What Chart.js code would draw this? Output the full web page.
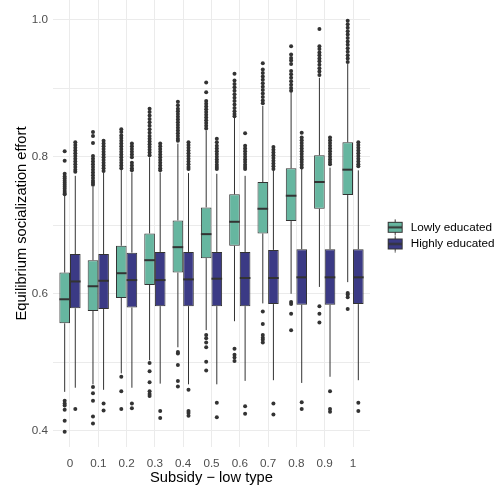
<!DOCTYPE html>
<html><head><meta charset="utf-8">
<script src="https://cdn.jsdelivr.net/npm/chart.js@4/dist/chart.umd.min.js"></script>
<style>html,body{margin:0;padding:0;background:#fff}#wrap{width:496px;height:491px;position:relative}</style>
</head><body><div id="wrap"><canvas id="c"></canvas></div>
<script>
// ---------------- DATA ----------------
const categories = [0, 0.1, 0.2, 0.3, 0.4, 0.5, 0.6, 0.7, 0.8, 0.9, 1];
const xTickLabels = ['0', '0.1', '0.2', '0.3', '0.4', '0.5', '0.6', '0.7', '0.8', '0.9', '1'];
const yTickValues = [0.4, 0.5, 0.6, 0.7, 0.8, 0.9, 1.0];
const yTickLabels = ['0.4', '', '0.6', '', '0.8', '', '1.0'];
const seriesNames = ['Lowly educated', 'Highly educated'];

// Lowly educated
const lowQ1      = [0.557, 0.575, 0.594, 0.613, 0.631, 0.652, 0.670, 0.688, 0.706, 0.724, 0.744];
const lowMedian  = [0.592, 0.611, 0.630, 0.649, 0.668, 0.687, 0.705, 0.724, 0.743, 0.763, 0.781];
const lowQ3      = [0.631, 0.649, 0.670, 0.688, 0.707, 0.726, 0.745, 0.763, 0.783, 0.802, 0.821];
const lowWhiskLo = [0.457, 0.468, 0.484, 0.503, 0.522, 0.547, 0.560, 0.586, 0.600, 0.610, 0.617];
const lowWhiskHi = [0.743, 0.756, 0.781, 0.799, 0.819, 0.838, 0.857, 0.874, 0.894, 0.915, 0.935];
const lowOutHigh = [
  [0.808, 0.794, 0.775, 0.771, 0.768, 0.765, 0.762, 0.759, 0.756, 0.753, 0.750, 0.747, 0.745],
  [0.836, 0.830, 0.820, 0.801, 0.797, 0.793, 0.789, 0.785, 0.781, 0.777, 0.773, 0.769, 0.765, 0.762, 0.759],
  [0.840, 0.836, 0.831, 0.827, 0.823, 0.819, 0.815, 0.811, 0.807, 0.803, 0.799, 0.795, 0.791, 0.787, 0.783],
  [0.870, 0.865, 0.860, 0.855, 0.850, 0.845, 0.840, 0.835, 0.830, 0.826, 0.822, 0.818, 0.814, 0.810, 0.806, 0.802],
  [0.880, 0.875, 0.870, 0.866, 0.862, 0.858, 0.854, 0.850, 0.846, 0.842, 0.838, 0.834, 0.830, 0.826, 0.823],
  [0.908, 0.894, 0.881, 0.877, 0.873, 0.869, 0.865, 0.861, 0.857, 0.853, 0.849, 0.845, 0.841],
  [0.921, 0.911, 0.906, 0.901, 0.896, 0.891, 0.886, 0.881, 0.876, 0.871, 0.866, 0.862, 0.859],
  [0.936, 0.927, 0.922, 0.917, 0.912, 0.907, 0.902, 0.897, 0.892, 0.887, 0.882, 0.878],
  [0.961, 0.949, 0.944, 0.940, 0.935, 0.925, 0.920, 0.915, 0.910, 0.905, 0.900, 0.896],
  [0.986, 0.961, 0.957, 0.952, 0.948, 0.943, 0.939, 0.934, 0.929, 0.924, 0.919],
  [0.998, 0.993, 0.988, 0.983, 0.978, 0.973, 0.968, 0.963, 0.958, 0.953, 0.948, 0.943, 0.938]
];
const lowOutLow = [
  [0.444, 0.440, 0.437, 0.431, 0.415, 0.399],
  [0.464, 0.455, 0.444, 0.421, 0.411],
  [0.479, 0.458, 0.432],
  [0.499, 0.487, 0.471, 0.458, 0.454, 0.451],
  [0.515, 0.513, 0.496, 0.473, 0.465],
  [0.540, 0.535, 0.529, 0.522, 0.501, 0.488],
  [0.520, 0.511, 0.507, 0.502],
  [0.574, 0.556, 0.540, 0.536, 0.533, 0.529],
  [0.588, 0.585, 0.571, 0.547],
  [0.582, 0.571, 0.558],
  [0.601, 0.599, 0.595, 0.578]
];

// Highly educated
const highQ1      = [0.579, 0.578, 0.580, 0.582, 0.582, 0.582, 0.582, 0.585, 0.584, 0.584, 0.585];
const highMedian  = [0.618, 0.619, 0.620, 0.620, 0.621, 0.622, 0.623, 0.623, 0.624, 0.624, 0.624];
const highQ3      = [0.658, 0.658, 0.660, 0.661, 0.661, 0.661, 0.661, 0.664, 0.665, 0.665, 0.665];
const highWhiskLo = [0.463, 0.460, 0.463, 0.469, 0.468, 0.468, 0.473, 0.474, 0.470, 0.479, 0.474];
const highWhiskHi = [0.772, 0.777, 0.777, 0.777, 0.776, 0.775, 0.772, 0.780, 0.782, 0.784, 0.780];
const highOutHigh = [
  [0.821, 0.817, 0.813, 0.809, 0.805, 0.801, 0.797, 0.793, 0.789, 0.785, 0.781, 0.778],
  [0.823, 0.819, 0.815, 0.811, 0.807, 0.803, 0.799, 0.795, 0.791, 0.787, 0.783, 0.779],
  [0.819, 0.815, 0.811, 0.807, 0.803, 0.799, 0.791, 0.787, 0.783, 0.780],
  [0.819, 0.815, 0.811, 0.807, 0.803, 0.799, 0.795, 0.791, 0.787, 0.783, 0.780],
  [0.821, 0.817, 0.813, 0.809, 0.805, 0.801, 0.797, 0.793, 0.789, 0.785, 0.782],
  [0.826, 0.821, 0.816, 0.812, 0.808, 0.804, 0.800, 0.796, 0.792, 0.788, 0.785, 0.782],
  [0.834, 0.816, 0.812, 0.808, 0.804, 0.800, 0.796, 0.792, 0.788, 0.785, 0.782],
  [0.814, 0.810, 0.806, 0.802, 0.798, 0.794, 0.790, 0.786, 0.782],
  [0.835, 0.828, 0.824, 0.820, 0.816, 0.812, 0.808, 0.804, 0.800, 0.796, 0.792, 0.788, 0.784],
  [0.828, 0.824, 0.820, 0.816, 0.812, 0.808, 0.804, 0.800, 0.796, 0.792, 0.789],
  [0.821, 0.817, 0.813, 0.809, 0.805, 0.801, 0.797, 0.793, 0.789, 0.786]
];
const highOutLow = [
  [0.432],
  [0.440, 0.430],
  [0.440, 0.433],
  [0.429, 0.419],
  [0.460, 0.429, 0.426, 0.422],
  [0.441, 0.420],
  [0.436, 0.425],
  [0.440, 0.424],
  [0.442, 0.432],
  [0.458, 0.432, 0.428],
  [0.441, 0.429]
];

// ---------------- STYLE ----------------
const fillColors = ['#66b6a0', '#3b3a85'];
const inkColor = '#333333';
const gridColor = '#ebebeb';
const catStep = 0.1, groupWidth = 0.75;
const dodge = catStep * groupWidth / 4;

Chart.defaults.font.family = "'Liberation Sans', Arial, Helvetica, sans-serif";

function boxData(q1, q3) {
  return categories.map((c, i) => ({ x: c, y: [q1[i], q3[i]] }));
}
function outlierData(hi, lo, sign) {
  const pts = [];
  categories.forEach((c, i) => {
    hi[i].concat(lo[i]).forEach(v => pts.push({ x: c + sign * dodge, y: v }));
  });
  return pts;
}
function keyGlyph(color) {
  const cv = document.createElement('canvas');
  cv.width = 17; cv.height = 17;
  const g = cv.getContext('2d');
  g.strokeStyle = inkColor; g.lineWidth = 1;
  g.beginPath(); g.moveTo(8.5, 0.5); g.lineTo(8.5, 16.5); g.stroke();
  g.fillStyle = color; g.fillRect(1.5, 3.5, 14, 10);
  g.strokeRect(1.5, 3.5, 14, 10);
  g.lineWidth = 2;
  g.beginPath(); g.moveTo(1.5, 8.5); g.lineTo(15.5, 8.5); g.stroke();
  return cv;
}

const stats = [
  { lo: lowWhiskLo, hi: lowWhiskHi, q1: lowQ1, q3: lowQ3, med: lowMedian },
  { lo: highWhiskLo, hi: highWhiskHi, q1: highQ1, q3: highQ3, med: highMedian }
];

const boxPlugin = {
  id: 'boxWhiskers',
  beforeDatasetsDraw(chart) {
    const ctx = chart.ctx, ys = chart.scales.y;
    ctx.save();
    ctx.strokeStyle = inkColor; ctx.lineWidth = 1;
    [0, 1].forEach(d => {
      const meta = chart.getDatasetMeta(d), s = stats[d];
      meta.data.forEach((el, i) => {
        const x = el.x;
        ctx.beginPath();
        ctx.moveTo(x, ys.getPixelForValue(s.lo[i])); ctx.lineTo(x, ys.getPixelForValue(s.q1[i]));
        ctx.moveTo(x, ys.getPixelForValue(s.q3[i])); ctx.lineTo(x, ys.getPixelForValue(s.hi[i]));
        ctx.stroke();
      });
    });
    ctx.restore();
  },
  afterDatasetsDraw(chart) {
    const ctx = chart.ctx, ys = chart.scales.y;
    ctx.save();
    ctx.strokeStyle = inkColor; ctx.lineWidth = 2;
    [0, 1].forEach(d => {
      const meta = chart.getDatasetMeta(d), s = stats[d];
      meta.data.forEach((el, i) => {
        const y = ys.getPixelForValue(s.med[i]);
        ctx.beginPath();
        ctx.moveTo(el.x - el.width / 2, y); ctx.lineTo(el.x + el.width / 2, y);
        ctx.stroke();
      });
    });
    ctx.restore();
  },
  afterLayout(chart) {
    const L = chart.legend;
    if (!L || !L.columnSizes || !L.columnSizes.length) return;
    const pad = L.options.labels.padding;
    const dx = 385.45 - (L.left + pad);
    L.left += dx; L.right += dx;
    const colH = L.columnSizes[0].height;
    const y0 = (L.top + pad + L.bottom - colH) / 2;
    const dy = 221.45 - y0;
    L.top += dy; L.bottom += dy;
  }
};

const glyphs = [keyGlyph(fillColors[0]), keyGlyph(fillColors[1])];

new Chart(document.getElementById('c'), {
  type: 'bar',
  data: {
    datasets: [
      { type: 'bar', label: seriesNames[0], data: boxData(lowQ1, lowQ3), backgroundColor: fillColors[0],
        borderColor: inkColor, borderWidth: 1, borderSkipped: false, grouped: true, order: 2 },
      { type: 'bar', label: seriesNames[1], data: boxData(highQ1, highQ3), backgroundColor: fillColors[1],
        borderColor: inkColor, borderWidth: 1, borderSkipped: false, grouped: true, order: 2 },
      { type: 'scatter', label: 'outLow', data: outlierData(lowOutHigh, lowOutLow, -1),
        pointRadius: 2, pointBackgroundColor: inkColor, pointBorderWidth: 0, order: 1 },
      { type: 'scatter', label: 'outHigh', data: outlierData(highOutHigh, highOutLow, 1),
        pointRadius: 2, pointBackgroundColor: inkColor, pointBorderWidth: 0, order: 1 }
    ]
  },
  options: {
    responsive: true,
    maintainAspectRatio: false,
    animation: false,
    devicePixelRatio: 1,
    categoryPercentage: groupWidth,
    barPercentage: 1,
    layout: { autoPadding: false, padding: { left: 0, top: 0, bottom: 0, right: 6 } },
    plugins: {
      tooltip: { enabled: false },
      legend: {
        position: 'right',
        maxWidth: 120,
        labels: {
          usePointStyle: true,
          pointStyleWidth: 19.4,
          padding: 5,
          color: '#000000',
          font: { size: 11.7 },
          generateLabels: () => seriesNames.map((n, i) => ({
            text: n, pointStyle: glyphs[i], fillStyle: fillColors[i], strokeStyle: inkColor,
            lineWidth: 0, hidden: false, datasetIndex: i
          }))
        }
      }
    },
    scales: {
      x: {
        type: 'linear',
        offset: false,
        min: -0.06, max: 1.06,
        afterBuildTicks: (s) => { s.ticks = categories.map(v => ({ value: v })); },
        afterFit: (s) => { s.height = 44; s.paddingLeft = 0; s.paddingRight = 0; },
        ticks: { autoSkip: false, maxRotation: 0, padding: 10, color: '#4d4d4d', font: { size: 11.7 },
                 callback: (v, i) => xTickLabels[i] },
        grid: { color: gridColor, lineWidth: 1, drawTicks: false, offset: false },
        border: { display: false },
        title: { display: true, text: 'Subsidy \u2212 low type', color: '#000000', font: { size: 14.7 },
                 padding: { top: 0, bottom: 4 } }
      },
      y: {
        type: 'linear',
        min: 0.3766, max: 1.0284,
        afterBuildTicks: (s) => { s.ticks = yTickValues.map(v => ({ value: v })); },
        afterFit: (s) => { s.width = 53; s.paddingTop = 0; s.paddingBottom = 0; },
        ticks: { autoSkip: false, padding: 5, color: '#4d4d4d', font: { size: 11.7 },
                 callback: (v, i) => yTickLabels[i] },
        grid: { color: gridColor, lineWidth: 1, drawTicks: false },
        border: { display: false },
        title: { display: true, text: 'Equilibrium socialization effort', color: '#000000', font: { size: 14.7 },
                 padding: { top: 13, bottom: 0 } }
      }
    }
  },
  plugins: [boxPlugin]
});
</script>
</body></html>
